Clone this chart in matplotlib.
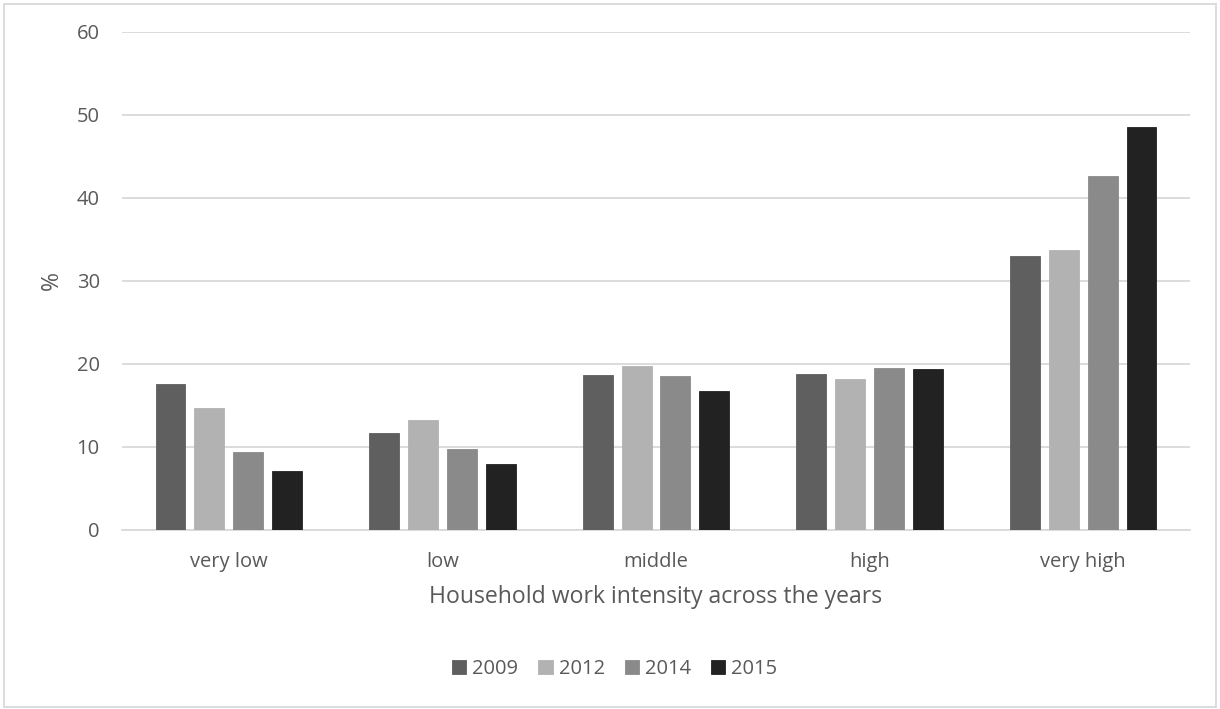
import matplotlib
matplotlib.use('Agg')
import matplotlib.pyplot as plt
import numpy as np
from matplotlib.patches import Rectangle

categories = ['very low', 'low', 'middle', 'high', 'very high']
years = ['2009', '2012', '2014', '2015']
v2009 = [17.6, 11.7, 18.7, 18.8, 33.0]
v2012 = [14.7, 13.2, 19.8, 18.2, 33.7]
v2014 = [9.4, 9.8, 18.5, 19.5, 42.6]
v2015 = [7.1, 8.0, 16.7, 19.4, 48.5]
series = [v2009, v2012, v2014, v2015]
colors = ['#5f5f5f', '#b2b2b2', '#8a8a8a', '#222222']

plt.rcParams['font.family'] = ['Open Sans', 'DejaVu Sans']
txt = '#595959'

fig = plt.figure(figsize=(12.2, 7.09), dpi=100)
ax = fig.add_axes([0.1, 0.2525, 0.8754, 0.7024])

x = np.arange(len(categories))
pitch = 0.182
width = 0.14
for i, vals in enumerate(series):
    ax.bar(x + (i - 1.5) * pitch, vals, width, color=colors[i], label=years[i],
           edgecolor=colors[i], linewidth=0.6, zorder=3)

ax.set_xlim(-0.5, len(categories) - 0.5)
ax.set_ylim(0, 60)
ax.set_yticks(range(0, 61, 10))
ax.set_xticks(x)
ax.set_xticklabels(categories)
ax.grid(axis='y', color='#d9d9d9', linewidth=1.3, zorder=0)
for s in ['top', 'right', 'left']:
    ax.spines[s].set_visible(False)
ax.spines['bottom'].set_color('#d9d9d9')
ax.spines['bottom'].set_linewidth(1.3)
ax.tick_params(axis='both', length=0, labelsize=14.5, colors=txt)
ax.tick_params(axis='y', pad=16)
ax.tick_params(axis='x', pad=16)
ax.set_ylabel('%', fontsize=16.6, color=txt)
ax.yaxis.set_label_coords(-0.054, 0.5)
ax.set_xlabel('Household work intensity across the years', fontsize=16.6, color=txt, labelpad=9)

leg = fig.legend(loc='center', bbox_to_anchor=(0.504, 0.0564), ncol=4, frameon=False,
                 fontsize=14.5, handlelength=0.7, handleheight=0.7, handletextpad=0.3,
                 columnspacing=1.0)
for t in leg.get_texts():
    t.set_color(txt)

fig.patches.append(Rectangle((0.003, 0.003), 0.994, 0.992, transform=fig.transFigure,
                             fill=False, edgecolor='#d9d9d9', linewidth=1.3))

fig.savefig('out.png', dpi=100)
